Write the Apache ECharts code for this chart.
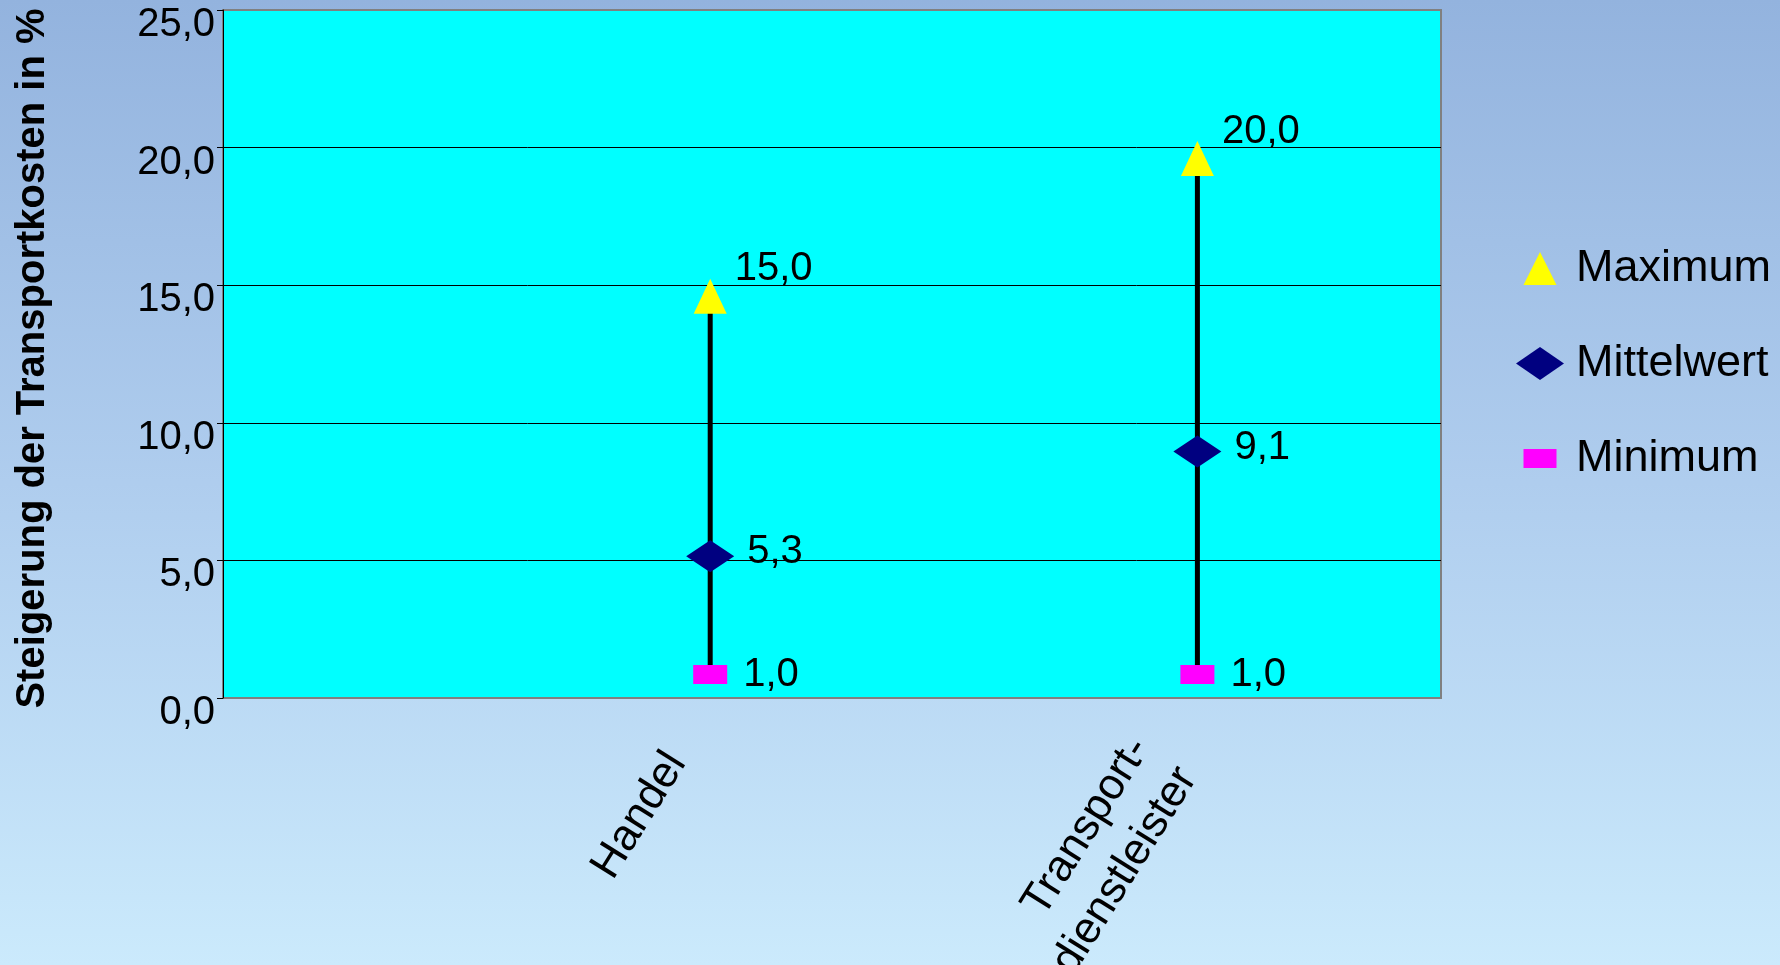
<!DOCTYPE html>
<html>
<head>
<meta charset="utf-8">
<script src="https://cdn.jsdelivr.net/npm/echarts@6/dist/echarts.min.js"></script>
<style>
html,body{margin:0;padding:0;}
#chart{width:1780px;height:965px;background:linear-gradient(to bottom,#93b3de 0%,#afcdee 50%,#cbeafc 100%);}
</style>
</head>
<body>
<div id="chart"></div>
<script>
const categories = ['Handel', 'Transport-\ndienstleister'];
const maximum = [15.0, 20.0];
const mittelwert = [5.3, 9.1];
const minimum = [1.0, 1.0];
const yTicks = [0, 5, 10, 15, 20, 25];
const yTitle = 'Steigerung der Transportkosten in %';
const seriesNames = ['Maximum', 'Mittelwert', 'Minimum'];

const FONT = "Arial, 'Liberation Sans', sans-serif";
const fmt = v => Number(v).toFixed(1).replace('.', ',');

const chart = echarts.init(document.getElementById('chart'), null, {renderer: 'canvas'});

const pts = arr => arr.map((v, i) => [i, v]);

const option = {
  backgroundColor: 'transparent',
  animation: false,
  textStyle: {fontFamily: FONT},
  grid: {
    left: 223, right: 339, top: 10, bottom: 267,
    outerBoundsMode: 'none',
    containLabel: false,
    show: true, backgroundColor: '#00ffff', borderColor: '#808080', borderWidth: 2
  },
  legend: {
    orient: 'vertical',
    left: 1511, top: 241,
    itemWidth: 48, itemHeight: 33, itemGap: 50,
    symbolKeepAspect: true,
    textStyle: {fontSize: 45, color: '#000', fontFamily: FONT, padding: [0, 0, 0, 7]},
    data: [
      {name: seriesNames[0], icon: 'path://M0,0M48,33M24,0L40.5,33L7.5,33Z'},
      {name: seriesNames[1], icon: 'path://M0,16.5L24,0L48,16.5L24,33Z'},
      {name: seriesNames[2], icon: 'path://M0,0M48,33M7.5,7L40.5,7L40.5,26L7.5,26Z'}
    ]
  },
  xAxis: {
    type: 'value',
    min: -1, max: 1.5, interval: 1,
    axisLine: {show: false},
    axisTick: {show: false},
    splitLine: {show: false},
    axisLabel: {
      rotate: 58,
      margin: 4,
      fontSize: 44,
      lineHeight: 56,
      color: '#000',
      padding: [0, 64, 0, 0],
      formatter: v => (Number.isInteger(v) && v >= 0 && v < categories.length) ? categories[v] : ''
    }
  },
  yAxis: {
    type: 'value',
    min: yTicks[0], max: yTicks[yTicks.length - 1], interval: 5,
    name: yTitle,
    nameLocation: 'middle',
    nameGap: 170,
    nameTextStyle: {fontSize: 40, fontWeight: 'bold', color: '#000', fontFamily: FONT, padding: [0, 9, 0, 0]},
    axisLine: {show: true, onZero: false, lineStyle: {color: '#000', width: 1}},
    axisTick: {show: true, inside: false, length: 6, lineStyle: {color: '#000'}},
    splitLine: {show: true, showMinLine: false, showMaxLine: false, lineStyle: {color: '#000', width: 1}},
    axisLabel: {
      fontSize: 40, color: '#000', margin: 8,
      verticalAlign: 'top',
      lineHeight: 30,
      formatter: v => fmt(v)
    }
  },
  series: [
    {
      type: 'custom',
      name: 'range',
      z: 1,
      data: categories.map((c, i) => [i, minimum[i], maximum[i]]),
      encode: {x: 0, y: [1, 2]},
      renderItem: (params, api) => {
        const a = api.coord([api.value(0), api.value(1)]);
        const b = api.coord([api.value(0), api.value(2)]);
        return {type: 'line', shape: {x1: a[0], y1: a[1], x2: b[0], y2: b[1]},
                style: {stroke: '#000', lineWidth: 5}};
      }
    },
    {
      type: 'scatter', name: seriesNames[0], z: 3,
      data: pts(maximum),
      symbol: 'triangle', symbolSize: [33, 35], symbolOffset: [0, 11],
      itemStyle: {color: '#ffff00', opacity: 1},
      label: {show: true, position: 'right', distance: 8, offset: [0, -27], fontSize: 40, color: '#000',
              formatter: p => fmt(p.value[1])}
    },
    {
      type: 'scatter', name: seriesNames[1], z: 3,
      data: pts(mittelwert),
      symbol: 'diamond', symbolSize: [48, 32], symbolOffset: [0, 4],
      itemStyle: {color: '#000080', opacity: 1},
      label: {show: true, position: 'right', distance: 13, offset: [0, -4], fontSize: 40, color: '#000',
              formatter: p => fmt(p.value[1])}
    },
    {
      type: 'scatter', name: seriesNames[2], z: 3,
      data: pts(minimum),
      symbol: 'rect', symbolSize: [34, 19], symbolOffset: [0, 4],
      itemStyle: {color: '#ff00ff', opacity: 1},
      label: {show: true, position: 'right', distance: 16, offset: [0, 0], fontSize: 40, color: '#000',
              formatter: p => fmt(p.value[1])}
    }
  ]
};
chart.setOption(option);
</script>
</body>
</html>
